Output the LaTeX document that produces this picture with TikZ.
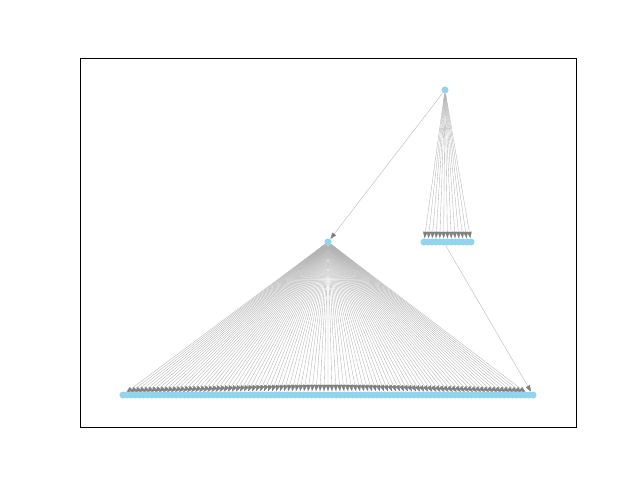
\documentclass[tikz,border=0pt]{standalone}
\usepackage{tikz}
\usetikzlibrary{arrows.meta}
\pgfdeclarelayer{bg}
\pgfsetlayers{bg,main}
\definecolor{skyblue}{RGB}{145,212,238}

\begin{document}
\begin{tikzpicture}[
        x=0.02cm, y=-0.02cm,
        dot/.style={
          circle,
          fill=skyblue,
          inner sep=0pt,
          minimum size=4pt
        },
        link/.style={
          draw=gray!60,
          line width=0.2pt,
          -{Triangle[length=3.6pt,width=2.6pt,fill=gray,color=gray]}
        }
      ]

        \useasboundingbox (0,0) rectangle (640,480);
        \draw[line width=0.45pt] (80,58) rectangle (576,427);

        % tree nodes
        \node[dot] (root) at (445,90) {};
        \node[dot] (mid) at (328,242) {};
        \foreach \i in {1,...,13}
          \node[dot] (c\i) at ({424+(\i-1)*3.92},242) {};
        \foreach \i in {1,...,101}
          \node[dot] (b\i) at ({123+(\i-1)*4.1},395) {};

        % connectors
        \begin{pgfonlayer}{bg}
          \draw[link] (root) -- (mid);
          \foreach \i in {1,...,13}
            \draw[link] (root) -- (c\i);
          \foreach \i in {1,...,100}
            \draw[link] (mid) -- (b\i);
          \draw[link] (c6) -- (b101);
        \end{pgfonlayer}

      \end{tikzpicture}
\end{document}
